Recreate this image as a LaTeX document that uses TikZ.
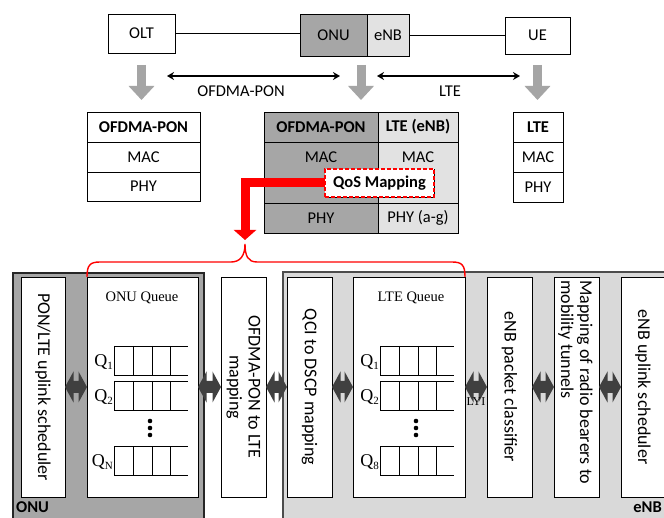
\documentclass[tikz,border=0pt]{standalone}
\usepackage{fontspec}
\setmainfont{Carlito}
\newfontfamily\dgSerif{Liberation Serif}
\usetikzlibrary{arrows.meta,calc}
\definecolor{dgray}{HTML}{A6A6A6}
\definecolor{lgray}{HTML}{E2E2E2}
\definecolor{egray}{HTML}{D9D9D9}
\definecolor{agray}{HTML}{A5A5A5}
\definecolor{fatc}{HTML}{404040}
\definecolor{qred}{HTML}{FF0000}
\newcommand\dgTop{\fontsize{16.5}{18}\selectfont}
\newcommand\dgRot{\fontsize{18}{19}\selectfont}
\newcommand\dgQ{\dgSerif\fontsize{18}{18}\selectfont}
\newcommand\dgQt{\dgSerif\fontsize{14.5}{15}\selectfont}
\newcommand\dgSub[1]{\raisebox{-3pt}{\fontsize{11}{11}\selectfont #1}}
% fat double-headed connector between two named boxes
\newcommand\dgFat[2]{%
  \fill[fatc] let \p1=(#1.east), \p2=(#2.west) in
    (\x1,\y1) -- (\x1+8.5pt,\y1+15.5pt) -- (\x1+8.5pt,\y1+6pt) -- (\x2-8.5pt,\y1+6pt)
    -- (\x2-8.5pt,\y1+15.5pt) -- (\x2,\y1) -- (\x2-8.5pt,\y1-15.5pt) -- (\x2-8.5pt,\y1-6pt)
    -- (\x1+8.5pt,\y1-6pt) -- (\x1+8.5pt,\y1-15.5pt) -- cycle;}
\begin{document}
\begin{tikzpicture}[x=1pt,y=-1pt,
  box/.style={draw=black,line width=0.8pt,inner sep=0pt,outer sep=0pt,anchor=north west,font=\dgTop},
  grayarr/.style={draw=agray,line width=9pt,-{Triangle[width=25pt,length=14pt]}},
  thinarr/.style={draw=black,line width=1.4pt,{Stealth[length=7pt,width=8pt]}-{Stealth[length=7pt,width=8pt]}},
  rot/.style={rotate=-90,inner sep=0pt,font=\dgRot,align=center},
  inbox/.style={draw=black,line width=0.8pt,fill=white,inner sep=0pt,outer sep=0pt,anchor=north west,minimum height=220pt},
  qlab/.style={font=\dgQ,inner sep=0pt,anchor=east},
  qline/.style={draw=black,line width=0.8pt},
  bigbox/.style={line width=1.3pt,inner sep=0pt,outer sep=0pt,anchor=north west,minimum height=262pt},
  lbl/.style={font=\dgTop,inner sep=0pt}
]
\useasboundingbox (0,0) rectangle (664,518);
\clip (0,0) rectangle (664,518);
\fill[white] (0,0) rectangle (664,518);

% ---------- top row ----------
\node[box,minimum width=67pt,minimum height=39pt] (olt) at (108,14) {OLT};
\node[box,fill=dgray,minimum width=67pt,minimum height=42pt] (onu) at (300,14) {ONU};
\node[box,fill=lgray,minimum width=42pt,minimum height=42pt] (enb) at (367,14) {eNB};
\node[box,minimum width=65pt,minimum height=37pt] (ue) at (505,17) {UE};
\draw[line width=0.8pt] (olt.east) -- (olt.east -| onu.west);
\draw[line width=0.8pt] (enb.east) -- (enb.east -| ue.west);

\coordinate (p1) at (167,76);
\coordinate (p2) at (340,76);
\coordinate (p3) at (377,76);
\coordinate (p4) at (520,76);
\draw[thinarr] (p1) -- (p2);
\draw[thinarr] (p3) -- (p4);
\node[lbl] (lofdma) at (241,91) {OFDMA-PON};
\node[lbl] (llte) at (450,91) {LTE};

% ---------- protocol stacks ----------
\node[box,minimum width=113pt,minimum height=30pt,font=\dgTop\bfseries] (lh) at (87,112) {OFDMA-PON};
\node[box,minimum width=113pt,minimum height=30pt] (lm) at (87,142) {MAC};
\node[box,minimum width=113pt,minimum height=29pt] (lp) at (87,172) {PHY};

\node[box,fill=dgray,minimum width=114pt,minimum height=30pt,font=\dgTop\bfseries] (mh1) at (264,112) {OFDMA-PON};
\node[box,fill=lgray,minimum width=80pt,minimum height=30pt,font=\dgTop\bfseries] (mh2) at (378,112) {LTE (eNB)};
\node[box,fill=dgray,minimum width=114pt,minimum height=61pt] (mb1) at (264,142) {};
\node[box,fill=lgray,minimum width=80pt,minimum height=61pt] (mb2) at (378,142) {};
\node[lbl] (mmac1) at (321,157) {MAC};
\node[lbl] (mmac2) at (418,157) {MAC};
\node[box,fill=dgray,minimum width=114pt,minimum height=30pt] (mp1) at (264,203) {PHY};
\node[box,fill=lgray,minimum width=80pt,minimum height=30pt] (mp2) at (378,203) {PHY (a-g)};

\node[box,minimum width=50pt,minimum height=30pt,font=\dgTop\bfseries] (rh) at (513,112) {LTE};
\node[box,minimum width=50pt,minimum height=30pt] (rm) at (513,142) {MAC};
\node[box,minimum width=50pt,minimum height=30pt] (rp) at (513,172) {PHY};

% gray down arrows
\coordinate (mtop) at ($(mh1.north west)!0.5!(mh2.north east)$);
\draw[grayarr,shorten <=12pt,shorten >=12pt] (olt.south) -- (olt.south |- lh.north);
\draw[grayarr,shorten <=9pt,shorten >=12pt] (mtop |- onu.south) -- (mtop);
\draw[grayarr,shorten <=11pt,shorten >=12pt] (ue.south) -- (ue.south |- rh.north);

% red arrow and QoS box
\coordinate (redtip) at (245,240);
\node[box,minimum width=109pt,minimum height=28pt] (qosref) at (325,169) {};
\draw[qred,line width=9pt,-{Triangle[width=22pt,length=10pt]}] (qosref.west) -| (redtip);
\node[box,draw=qred,dashed,dash pattern=on 4pt off 2pt,line width=1.5pt,fill=white,minimum width=109pt,minimum height=28pt,font=\dgTop\bfseries] (qos) at (325,169) {QoS Mapping};

% ---------- bottom section ----------
\node[bigbox,draw=black!85,fill=dgray,minimum width=191pt] (onubig) at (13,273) {};
\node[bigbox,draw=black!70,fill=egray,minimum width=420pt] (enbbig) at (283,272) {};
\node[font=\dgTop\bfseries,inner sep=0pt,anchor=base west] (onulbl) at (16,512) {ONU};
\node[font=\dgTop\bfseries,inner sep=0pt,anchor=base east] (enblbl) at (662,512) {eNB};

\node[inbox,minimum width=44pt] (sch1) at (21,277) {};
\node[inbox,minimum width=111pt] (onuq) at (87,277) {};
\node[inbox,minimum width=45pt] (ofmap) at (221,277) {};
\node[inbox,minimum width=45pt] (qci) at (287,277) {};
\node[inbox,minimum width=112pt] (lteq) at (353,277) {};
\node[inbox,minimum width=45pt] (cls) at (487,277) {};
\node[inbox,minimum width=45pt] (rbm) at (554,277) {};
\node[inbox,minimum width=44pt] (esch) at (621,277) {};

\node[rot] (t1) at (sch1) {PON/LTE uplink scheduler};
\node[rot] (t2) at (ofmap) {OFDMA-PON to LTE\\mapping};
\node[rot] (t3) at (qci) {QCI to DSCP mapping};
\node[rot] (t4) at (cls) {eNB packet classifier};
\node[rot,align=left,anchor=west] (t5) at ($(rbm.north)+(-1,3)$) {Mapping of radio bearers to\\mobility tunnels};
\node[rot] (t6) at (esch) {eNB uplink scheduler};

\node[font=\dgQt,inner sep=0pt] (onuqt) at (142,298) {ONU Queue};
\node[font=\dgQt,inner sep=0pt] (lteqt) at (411,298) {LTE Queue};

\foreach \xo/\lab in {114/N,380/8} {
  \foreach \yo/\s in {346/1,381/2,446/\lab} {
    \draw[qline] (\xo,\yo) -- (\xo+74,\yo) (\xo,\yo+29) -- (\xo+74,\yo+29);
    \foreach \dx in {0,19,38,56} \draw[qline] (\xo+\dx,\yo) -- (\xo+\dx,\yo+29);
    \node[qlab] (q-\xo-\s) at (\xo-1,\yo+16) {Q\dgSub{\s}};
  }
  \foreach \dy in {421,428,435} \fill (\xo+36,\dy) circle[radius=2.3pt];
}

% fat double arrows
\dgFat{sch1}{onuq}
\dgFat{onuq}{ofmap}
\dgFat{ofmap}{qci}
\dgFat{qci}{lteq}
\dgFat{lteq}{cls}
\dgFat{cls}{rbm}
\dgFat{rbm}{esch}
\node[font=\dgSerif\fontsize{12}{12}\selectfont,inner sep=0pt] (lyi) at (476,402) {LYI};

% red brace
\draw[qred,line width=1.4pt] (onuq.north west) .. controls +(0,-12) and +(-10,0) .. (100,262) -- (231,262)
  .. controls +(9,0) and +(0,12) .. (245,244) .. controls +(0,12) and +(-9,0) .. (257,262) -- (452,262)
  .. controls +(10,0) and +(0,-12) .. (lteq.north east);
\end{tikzpicture}
\end{document}
